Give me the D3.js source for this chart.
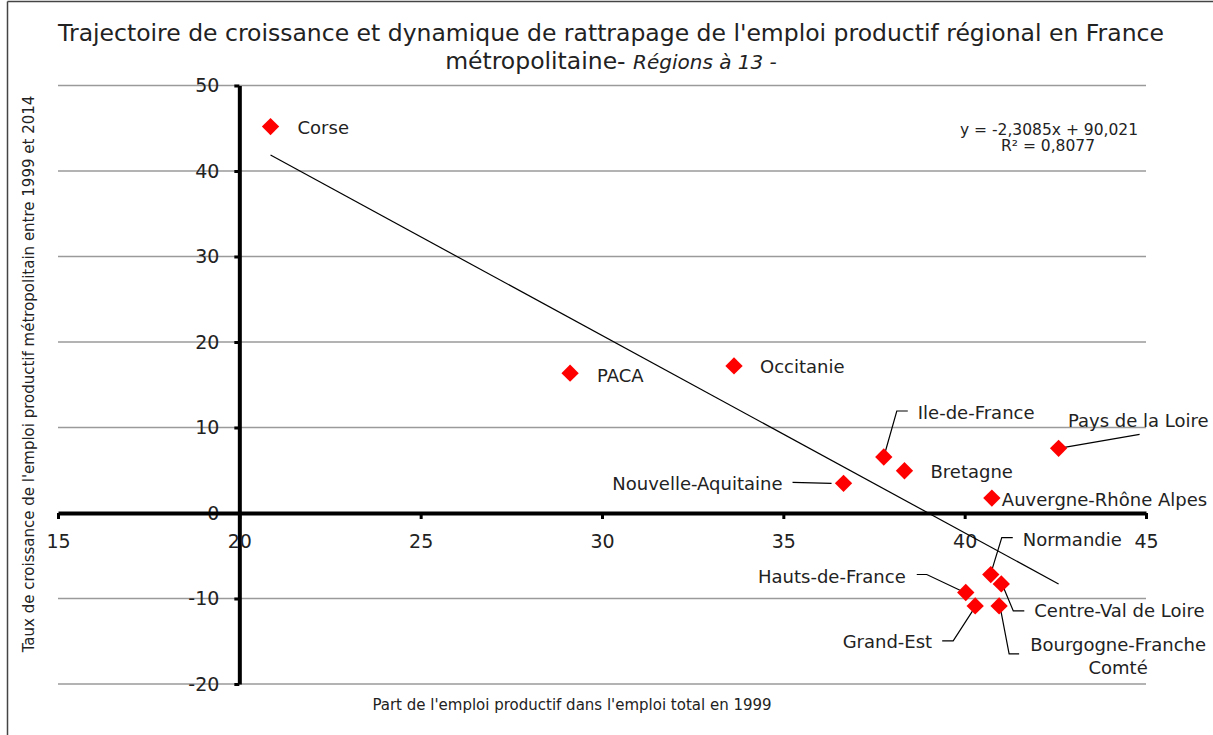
<!DOCTYPE html>
<html>
<head>
<meta charset="utf-8">
<script src="https://cdn.jsdelivr.net/npm/d3@7"></script>
<style>
  html, body { margin: 0; padding: 0; background: #fff; }
  svg { display: block; font-family: "DejaVu Sans", sans-serif; }
</style>
</head>
<body>
<svg id="chart" width="1213" height="735"></svg>
<script>
// Regions (13-region map of metropolitan France)
const regions = [
  "Corse", "PACA", "Occitanie", "Nouvelle-Aquitaine", "Ile-de-France", "Bretagne",
  "Pays de la Loire", "Auvergne-Rhône Alpes", "Normandie", "Centre-Val de Loire",
  "Hauts-de-France", "Grand-Est", "Bourgogne-Franche Comté"
];
// Share of productive employment in total employment, 1999 (%)
const shareProductive1999 = [20.86, 29.12, 33.64, 36.66, 37.77, 38.34, 42.59, 40.75, 40.72, 41.01, 40.03, 40.29, 40.95];
// Growth rate of productive employment 1999–2014 (%)
const growthRate = [45.2, 16.35, 17.2, 3.47, 6.55, 4.94, 7.56, 1.75, -7.2, -8.3, -9.3, -10.87, -10.87];

// Linear trend (as reported)
const trendSlope = -2.3085;
const trendIntercept = 90.021;
const trendR2 = 0.8077;

const xTicks = [15, 20, 25, 30, 35, 40, 45];
const yTicks = [-20, -10, 0, 10, 20, 30, 40, 50];

// Label placement per region: text offset from the marker, and optional leader path
// (leader given as offsets: elbow points from the text side to the marker)
const labelLayout = {
  "Corse":                  { dx: 27,  dy: 1,   anchor: "start" },
  "PACA":                   { dx: 27,  dy: 2,   anchor: "start" },
  "Occitanie":              { dx: 26,  dy: 1,   anchor: "start" },
  "Nouvelle-Aquitaine":     { dx: -61, dy: 0,   anchor: "end",   leader: [[-51, -1], [-12, 0]] },
  "Ile-de-France":          { dx: 34,  dy: -44, anchor: "start", leader: [[24, -46], [13, -46], [0, 0]] },
  "Bretagne":               { dx: 26,  dy: 1,   anchor: "start" },
  "Pays de la Loire":       { dx: 150, dy: -28, anchor: "end",   leader: [[81, -14], [0, 0]] },
  "Auvergne-Rhône Alpes":   { dx: 10,  dy: 1,   anchor: "start" },
  "Normandie":              { dx: 32,  dy: -35, anchor: "start", leader: [[22, -37], [11, -37], [0, -1]] },
  "Centre-Val de Loire":    { dx: 33,  dy: 27,  anchor: "start", leader: [[23, 27], [12, 27], [2, 3]] },
  "Hauts-de-France":        { dx: -60, dy: -16, anchor: "end",   leader: [[-49, -18], [-39, -18], [-1, 0]] },
  "Grand-Est":              { dx: -43, dy: 36,  anchor: "end",   leader: [[-33, 35], [-22, 35], [0, 1]] },
  "Bourgogne-Franche Comté":{ dx: 119, dy: 38,  anchor: "middle", lines: ["Bourgogne-Franche", "Comté"],
                              leader: [[20, 48], [10, 48], [1, 1]] }
};

const svg = d3.select("#chart");

// Frame
svg.append("line").attr("x1", 7.5).attr("x2", 7.5).attr("y1", 1.5).attr("y2", 735)
  .attr("stroke", "#444").attr("stroke-width", 1.5);
svg.append("line").attr("x1", 7.5).attr("x2", 1213).attr("y1", 1.5).attr("y2", 1.5)
  .attr("stroke", "#444").attr("stroke-width", 1.5);

const x = d3.scaleLinear().domain([15, 45]).range([58, 1146]);
const y = d3.scaleLinear().domain([-20, 50]).range([684, 85.5]);

// Title
const title = svg.append("text").attr("text-anchor", "middle").attr("fill", "#222")
  .attr("font-size", 23.5);
title.append("tspan").attr("x", 611).attr("y", 41)
  .text("Trajectoire de croissance et dynamique de rattrapage de l'emploi productif régional en France");
const t2 = title.append("tspan").attr("x", 611).attr("y", 69);
t2.append("tspan").text("métropolitaine- ");
t2.append("tspan").attr("font-style", "italic").attr("font-size", 20).text("Régions à 13 -");

// Horizontal gridlines
svg.append("g").selectAll("line").data(yTicks.filter(d => d !== 0)).join("line")
  .attr("x1", x(15)).attr("x2", x(45))
  .attr("y1", d => y(d)).attr("y2", d => y(d))
  .attr("stroke", "#9a9a9a").attr("stroke-width", 1.3);

const plainNum = d => String(d);

// Y axis at x = 20
const yAxis = svg.append("g").attr("transform", `translate(${x(20)},0)`)
  .call(d3.axisLeft(y).tickValues(yTicks).tickFormat(plainNum).tickSize(5).tickSizeOuter(0).tickPadding(15));
yAxis.select(".domain").attr("stroke", "#000").attr("stroke-width", 4);
yAxis.selectAll(".tick line").attr("stroke", "#000").attr("stroke-width", 3);
yAxis.selectAll(".tick text").attr("font-size", 19).attr("fill", "#222")
  .attr("font-family", "DejaVu Sans, sans-serif");

// X axis at y = 0
const xAxis = svg.append("g").attr("transform", `translate(0,${y(0)})`)
  .call(d3.axisBottom(x).tickValues(xTicks).tickFormat(plainNum).tickSize(6).tickSizeOuter(0).tickPadding(16));
xAxis.select(".domain").attr("stroke", "#000").attr("stroke-width", 4);
xAxis.selectAll(".tick line").attr("stroke", "#000").attr("stroke-width", 3);
xAxis.selectAll(".tick text").attr("font-size", 19).attr("fill", "#222")
  .attr("font-family", "DejaVu Sans, sans-serif");

// Trend line over the data range
const xMin = d3.min(shareProductive1999), xMax = d3.max(shareProductive1999);
svg.append("line")
  .attr("x1", x(xMin)).attr("y1", y(trendSlope * xMin + trendIntercept))
  .attr("x2", x(xMax)).attr("y2", y(trendSlope * xMax + trendIntercept))
  .attr("stroke", "#000").attr("stroke-width", 1.2);

// Equation
const fmt = v => v.toString().replace(".", ",");
const eq = svg.append("text").attr("text-anchor", "middle").attr("fill", "#222").attr("font-size", 15.5);
eq.append("tspan").attr("x", 1049).attr("y", 135)
  .text(`y = ${fmt(trendSlope)}x + ${fmt(trendIntercept)}`);
eq.append("tspan").attr("x", 1048).attr("y", 151).text(`R² = ${fmt(trendR2)}`);

const points = regions.map((r, i) => ({ name: r, x: shareProductive1999[i], y: growthRate[i] }));

// Leader lines
svg.append("g").selectAll("path").data(points.filter(p => labelLayout[p.name].leader)).join("path")
  .attr("d", p => {
    const px = x(p.x), py = y(p.y);
    return d3.line()(labelLayout[p.name].leader.map(([dx, dy]) => [px + dx, py + dy]));
  })
  .attr("fill", "none").attr("stroke", "#000").attr("stroke-width", 1.2);

// Diamond markers
const diamond = d3.symbol().type(d3.symbolSquare).size(150);
svg.append("g").selectAll("path").data(points).join("path")
  .attr("d", diamond)
  .attr("transform", p => `translate(${x(p.x)},${y(p.y)}) rotate(45)`)
  .attr("fill", "#ff0000");

// Region labels
const labels = svg.append("g").attr("font-size", 18).attr("fill", "#222");
points.forEach(p => {
  const L = labelLayout[p.name];
  const px = x(p.x) + L.dx, py = y(p.y) + L.dy;
  const t = labels.append("text").attr("text-anchor", L.anchor).attr("dominant-baseline", "central");
  if (L.lines) {
    L.lines.forEach((ln, k) => t.append("tspan").attr("x", px).attr("y", py + k * 23).text(ln));
  } else {
    t.attr("x", px).attr("y", py).text(p.name);
  }
});

// Axis titles
svg.append("text").attr("transform", `translate(34,374) rotate(-90)`)
  .attr("text-anchor", "middle").attr("font-size", 15).attr("fill", "#222")
  .text("Taux de croissance de l'emploi productif métropolitain entre 1999 et 2014");
svg.append("text").attr("x", 572).attr("y", 710)
  .attr("text-anchor", "middle").attr("font-size", 15).attr("fill", "#222")
  .text("Part de l'emploi productif dans l'emploi total en 1999");
</script>
</body>
</html>
